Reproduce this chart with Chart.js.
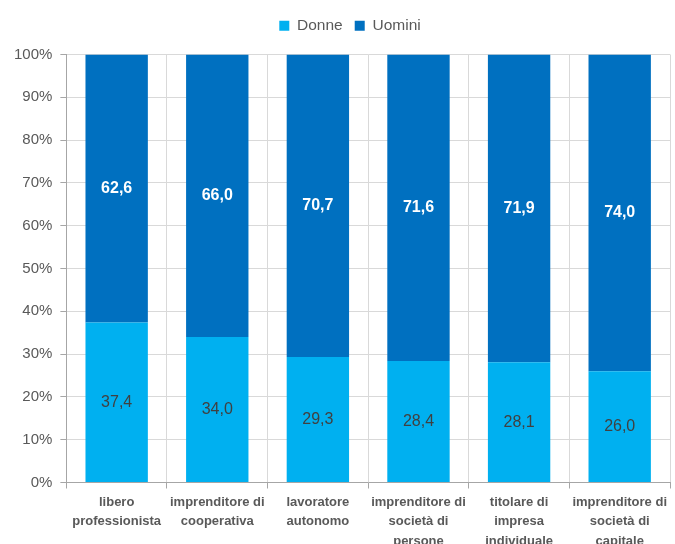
<!DOCTYPE html>
<html>
<head>
<meta charset="utf-8">
<script src="https://cdn.jsdelivr.net/npm/chart.js@4"></script>
<style>
  html, body { margin: 0; padding: 0; background: #fff; overflow: hidden; }
  #wrap { width: 675px; height: 555px; position: relative; }
</style>
</head>
<body>
<div id="wrap"><canvas id="chart"></canvas></div>
<script>
let categorie = [
	["libero", "professionista"],
	["imprenditore di", "cooperativa"],
	["lavoratore", "autonomo"],
	["imprenditore di", "società di", "persone"],
	["titolare di", "impresa", "individuale"],
	["imprenditore di", "società di", "capitale"]
];
let donne = [37.4, 34.0, 29.3, 28.4, 28.1, 26.0];
let uomini = [62.6, 66.0, 70.7, 71.6, 71.9, 74.0];

let fontName = "'Liberation Sans', Arial, sans-serif";

// scrive il valore al centro di ogni segmento
const etichette = {
	id: 'etichette',
	afterDatasetsDraw(chart) {
		let ctx = chart.ctx;
		chart.data.datasets.forEach((ds, i) => {
			let meta = chart.getDatasetMeta(i);
			meta.data.forEach((bar, j) => {
				let y = (bar.y + bar.base) / 2;
				ctx.save();
				ctx.textAlign = 'center';
				ctx.textBaseline = 'middle';
				if (i == 0) {
					ctx.fillStyle = '#404040';
					ctx.font = '16px ' + fontName;
				} else {
					ctx.fillStyle = '#ffffff';
					ctx.font = 'bold 16px ' + fontName;
				}
				ctx.fillText(ds.data[j].toFixed(1).replace('.', ','), bar.x, y);
				ctx.restore();
			});
		});
	}
};

// un po' di spazio in più sotto la legenda, e legenda spostata verso destra
const spazioLegenda = {
	id: 'spazioLegenda',
	beforeInit(chart) {
		let fit = chart.legend.fit;
		chart.legend.fit = function() {
			fit.bind(chart.legend)();
			this.height += 11;
		};
	},
	afterLayout(chart) {
		chart.legend.left += 12;
		chart.legend.right += 12;
	}
};

let chart = new Chart(document.getElementById('chart'), {
	type: 'bar',
	data: {
		labels: categorie,
		datasets: [{
			label: 'Donne',
			data: donne,
			backgroundColor: '#00B0F0'
		},
		{
			label: 'Uomini',
			data: uomini,
			backgroundColor: '#0070C0'
		}]
	},
	plugins: [etichette, spazioLegenda],
	options: {
		responsive: true,
		maintainAspectRatio: false,
		animation: false,
		barPercentage: 0.62,
		categoryPercentage: 1,
		layout: { padding: { top: 6, right: 5, left: 6, bottom: 0 } },
		plugins: {
			legend: {
				position: 'top',
				labels: {
					boxWidth: 10,
					boxHeight: 10,
					padding: 12,
					color: '#595959',
					font: { family: fontName, size: 15.5 }
				}
			},
			tooltip: { enabled: false }
		},
		scales: {
			x: {
				stacked: true,
				grid: {
					offset: true,
					color: '#D9D9D9',
					tickColor: '#A6A6A6',
					tickLength: 6
				},
				border: { color: '#A6A6A6' },
				ticks: {
					color: '#595959',
					maxRotation: 0,
					autoSkip: false,
					padding: 4,
					font: { family: fontName, size: 13, weight: 'bold', lineHeight: 1.5 }
				}
			},
			y: {
				stacked: true,
				min: 0,
				max: 100,
				grid: {
					color: '#D9D9D9',
					tickColor: '#A6A6A6',
					tickLength: 6
				},
				border: { color: '#A6A6A6' },
				ticks: {
					stepSize: 10,
					color: '#595959',
					padding: 8,
					font: { family: fontName, size: 15 },
					callback: v => v + '%'
				}
			}
		}
	}
});
</script>
</body>
</html>
